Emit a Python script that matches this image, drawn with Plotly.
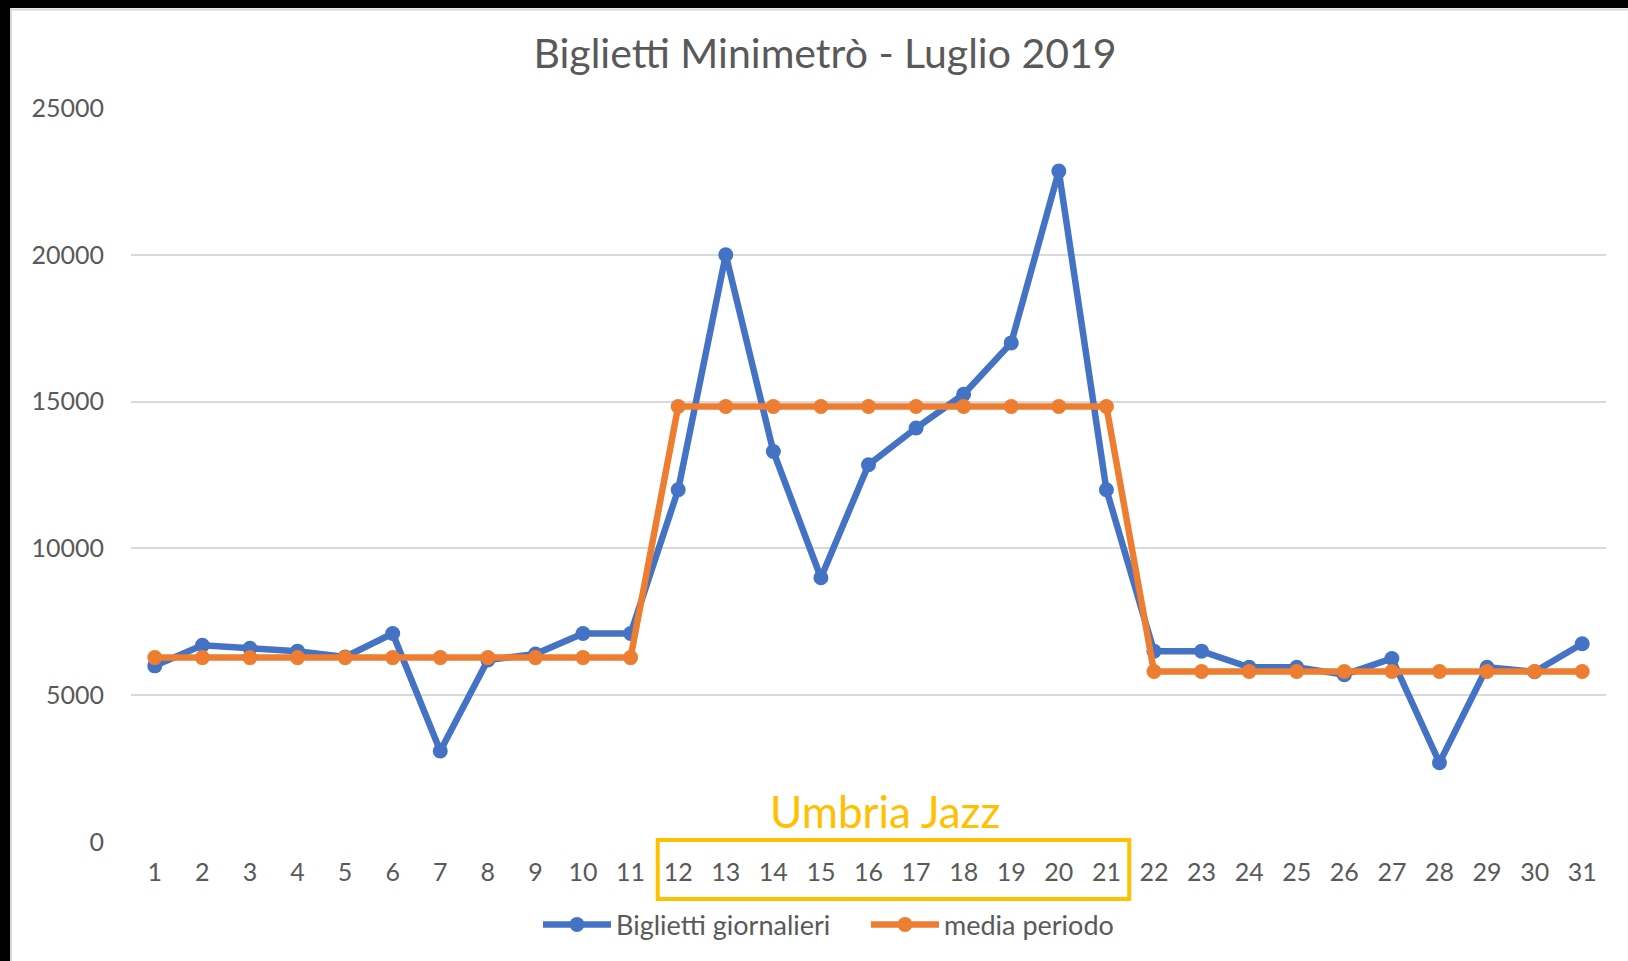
import plotly.graph_objects as go

days = list(range(1, 32))
day_labels = [str(d) for d in days]
biglietti = [6000, 6700, 6600, 6500, 6300, 7100, 3100, 6200, 6400, 7100, 7100,
             12000, 20000, 13300, 9000, 12850, 14100, 15250, 17000, 22850, 12000,
             6500, 6500, 5950, 5950, 5700, 6250, 2700, 5950, 5800, 6750]
media = [6280] * 11 + [14835] * 10 + [5805] * 10
jazz_days = list(range(12, 22))
y_ticks = [0, 5000, 10000, 15000, 20000, 25000]

W, H = 1628, 961
L, R, T, B = 131, 22, 108, 119
PW, PH = W - L - R, H - T - B

def px_x(p):
    return (p - L) / PW

def px_y(p):
    return (H - B - p) / PH

BLUE = "#4472C4"
ORANGE = "#ED7D31"
GOLD = "#FFC000"
TXT = "#595959"
GRID = "#D9D9D9"
FONT = "Lato, 'Open Sans', sans-serif"

fig = go.Figure()
fig.add_trace(go.Scatter(x=days, y=biglietti, mode="lines+markers", name="Biglietti giornalieri",
                         line=dict(color=BLUE, width=6.5), marker=dict(color=BLUE, size=15)))
fig.add_trace(go.Scatter(x=days, y=media, mode="lines+markers", name="media periodo",
                         line=dict(color=ORANGE, width=6.5), marker=dict(color=ORANGE, size=15)))

shapes = [
    dict(type="rect", xref="paper", yref="paper", x0=px_x(0), x1=px_x(W), y0=px_y(0), y1=px_y(8),
         fillcolor="black", line=dict(width=0), layer="above"),
    dict(type="rect", xref="paper", yref="paper", x0=px_x(0), x1=px_x(10), y0=px_y(0), y1=px_y(H),
         fillcolor="black", line=dict(width=0), layer="above"),
    dict(type="line", xref="paper", yref="paper", x0=px_x(10), x1=px_x(W), y0=px_y(9.5), y1=px_y(9.5),
         line=dict(color=GRID, width=2)),
    dict(type="line", xref="paper", yref="paper", x0=px_x(11), x1=px_x(11), y0=px_y(8), y1=px_y(H),
         line=dict(color=GRID, width=2)),
    dict(type="rect", xref="x", yref="paper", x0=min(jazz_days) - 0.43, x1=max(jazz_days) + 0.48,
         y0=px_y(899), y1=px_y(840), line=dict(color=GOLD, width=4), layer="above"),
]

fig.update_layout(
    width=W, height=H,
    margin=dict(l=L, r=R, t=T, b=B),
    paper_bgcolor="white", plot_bgcolor="white",
    font=dict(family=FONT, color=TXT, size=25),
    title=dict(text="Biglietti Minimetrò - Luglio 2019", x=825 / W, xref="container", xanchor="center",
               y=1 - 54 / H, yref="container", yanchor="middle",
               font=dict(family=FONT, size=41, color=TXT)),
    xaxis=dict(range=[0.5, 31.5], tickvals=days, ticktext=day_labels, showgrid=False,
               zeroline=False, showline=False, ticks="", ticklabelstandoff=13,
               tickfont=dict(size=25, color=TXT)),
    yaxis=dict(range=[0, 25000], tickvals=y_ticks, tickformat="d", showgrid=True, gridcolor=GRID,
               gridwidth=2, zeroline=False, showline=False, ticks="", ticklabelstandoff=26,
               tickfont=dict(size=25, color=TXT)),
    legend=dict(orientation="h", x=px_x(538), xanchor="left", y=px_y(925), yanchor="middle",
                font=dict(size=27, color=TXT), itemwidth=68, entrywidth=245, entrywidthmode="pixels",
                bgcolor="rgba(0,0,0,0)"),
    showlegend=True,
    shapes=shapes,
    annotations=[dict(text="Umbria Jazz", xref="x", yref="paper", x=(min(jazz_days) + max(jazz_days)) / 2 - 0.15,
                      y=px_y(811), xanchor="center", yanchor="middle", showarrow=False,
                      font=dict(family=FONT, size=44, color=GOLD))],
)

fig.write_html("out.html", config={"displayModeBar": False},
               post_script="document.body.style.margin='0';document.body.style.overflow='hidden';")
